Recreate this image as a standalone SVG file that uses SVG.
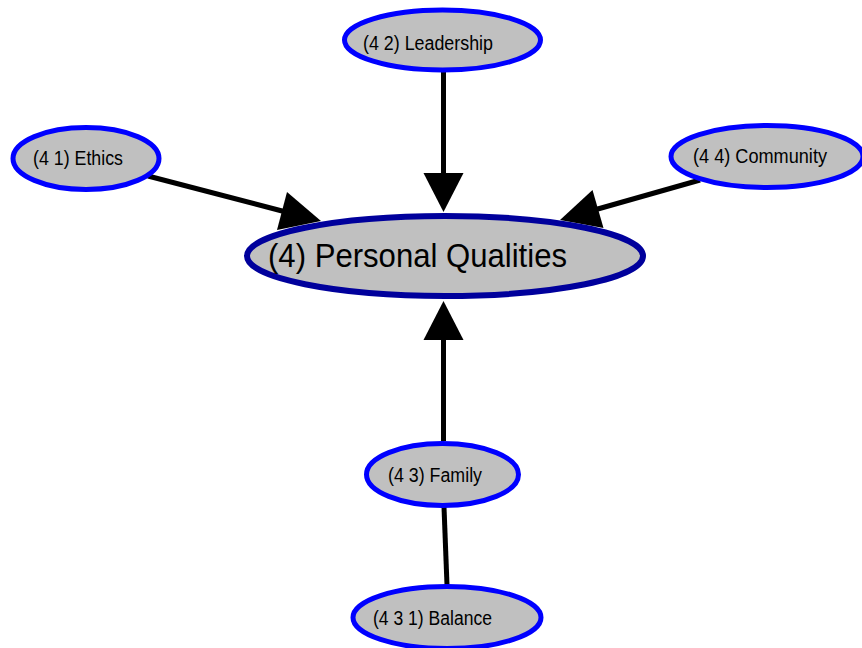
<svg xmlns="http://www.w3.org/2000/svg" width="862" height="648" viewBox="0 0 862 648">
  <style>
    .edge { stroke: #000; stroke-width: 5; fill: none; }
    .head { fill: #000; stroke: none; }
    .node ellipse { fill: #c0c0c0; stroke: #0000ff; stroke-width: 5; }
    .node.root ellipse { stroke: #00009c; stroke-width: 6; }
    text { font-family: "Liberation Sans", Arial, sans-serif; fill: #000; }
    .label { font-size: 19.5px; }
    .root-label { font-size: 34px; }
  </style>
  <rect width="862" height="648" fill="#ffffff"/>

  <!-- connectors -->
  <g id="edges">
    <line class="edge" x1="443.5" y1="72" x2="443.5" y2="175"/>
    <polygon class="head" points="423.5,173 463.5,173 443.5,212"/>

    <line class="edge" x1="148" y1="176" x2="284" y2="211.5"/>
    <polygon class="head" points="287,192 277,230 321,221"/>

    <line class="edge" x1="700" y1="180" x2="596" y2="209.5"/>
    <polygon class="head" points="592.5,190 603.5,228 560,220"/>

    <line class="edge" x1="443.5" y1="441" x2="443.5" y2="338"/>
    <polygon class="head" points="423.5,340 463.5,340 443.5,301"/>

    <line class="edge" x1="447" y1="585" x2="444" y2="507"/>
  </g>

  <!-- nodes -->
  <g id="n4" class="node root">
    <ellipse cx="445" cy="256" rx="198" ry="40"/>
    <text class="root-label" x="268" y="267" textLength="299" lengthAdjust="spacingAndGlyphs">(4) Personal Qualities</text>
  </g>
  <g id="n42" class="node">
    <ellipse cx="442.5" cy="40" rx="98" ry="30"/>
    <text class="label" x="363" y="50" textLength="130" lengthAdjust="spacingAndGlyphs">(4 2) Leadership</text>
  </g>
  <g id="n41" class="node">
    <ellipse cx="86" cy="158.5" rx="73" ry="31"/>
    <text class="label" x="33" y="165" textLength="90" lengthAdjust="spacingAndGlyphs">(4 1) Ethics</text>
  </g>
  <g id="n44" class="node">
    <ellipse cx="767" cy="156.5" rx="96" ry="31"/>
    <text class="label" x="693" y="163" textLength="134" lengthAdjust="spacingAndGlyphs">(4 4) Community</text>
  </g>
  <g id="n43" class="node">
    <ellipse cx="442.5" cy="474.5" rx="76" ry="31"/>
    <text class="label" x="388" y="482" textLength="94" lengthAdjust="spacingAndGlyphs">(4 3) Family</text>
  </g>
  <g id="n431" class="node">
    <ellipse cx="447" cy="617.5" rx="94" ry="31"/>
    <text class="label" x="373" y="625" textLength="119" lengthAdjust="spacingAndGlyphs">(4 3 1) Balance</text>
  </g>
</svg>
